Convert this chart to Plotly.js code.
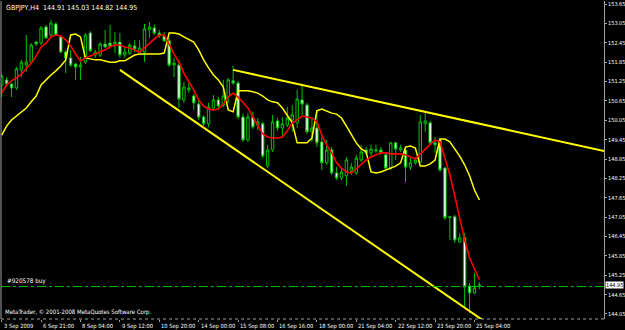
<!DOCTYPE html>
<html><head><meta charset="utf-8">
<script src="https://cdn.plot.ly/plotly-3.0.1.min.js"></script>
<style>html,body{margin:0;padding:0;background:#000;}#chart{width:625px;height:330px;}</style>
</head><body><div id="chart"></div>
<script>
// GBPJPY H4 bars, index 0 = 3 Sep 2009 16:00
const openP = [151.14,151.30,151.17,151.05,151.61,151.76,151.85,152.47,152.44,152.94,
152.69,153.03,152.63,152.16,151.98,151.79,151.70,151.85,152.75,152.07,
152.07,152.41,152.44,152.41,152.47,152.07,152.13,152.35,152.16,152.16,
152.85,152.91,152.75,152.66,152.51,151.76,151.76,150.68,150.99,150.80,
150.55,150.15,149.94,150.43,150.68,150.52,150.77,151.27,151.20,150.15,
149.44,150.15,149.90,149.94,148.64,149.13,150.03,149.81,149.90,150.06,
149.97,150.68,150.52,149.69,149.81,149.38,148.73,149.13,148.42,148.26,
148.33,148.48,148.42,148.82,149.13,149.04,149.10,149.13,148.98,148.57,
149.35,149.13,149.13,148.60,148.73,148.76,149.94,149.97,149.35,149.44,
148.57,147.03,147.06,146.28,146.41,144.92,144.70,144.91];
const highP = [151.48,151.39,151.20,151.70,151.92,152.69,152.44,152.51,152.97,153.00,
153.16,153.09,152.69,152.23,152.23,151.82,152.01,152.75,152.81,152.23,
152.47,152.85,153.00,152.78,152.75,152.32,152.44,152.54,152.54,153.03,
153.09,153.00,152.85,152.78,152.60,151.98,151.92,151.24,151.20,150.86,
150.68,150.21,150.59,150.83,150.77,151.30,151.36,151.73,151.27,150.25,
150.28,150.31,150.12,150.00,149.29,150.21,150.12,150.15,150.46,150.52,
150.99,151.14,150.59,150.15,150.37,149.53,149.44,149.22,148.60,148.57,
148.91,148.73,148.98,149.29,149.22,149.29,149.29,149.22,149.04,149.38,
149.38,149.29,149.19,148.88,148.91,150.21,150.28,150.03,149.53,149.50,
148.60,147.09,147.12,146.56,146.56,145.01,145.32,145.03];
const lowP = [150.77,151.08,150.77,150.99,151.39,151.55,151.82,152.35,152.38,152.57,
152.63,152.66,152.13,151.51,151.70,151.30,151.30,151.79,152.16,151.98,
152.01,152.29,152.32,152.13,151.98,151.98,152.07,152.16,152.13,151.85,
152.60,152.69,152.60,152.47,151.70,151.39,150.43,150.59,150.90,150.37,
150.06,149.87,149.84,150.37,150.37,150.46,150.59,151.14,150.09,149.38,
149.38,149.78,149.75,148.88,148.57,149.07,149.72,149.53,149.84,149.69,
149.81,150.21,149.63,149.38,149.22,148.51,148.67,148.36,148.20,148.20,
148.02,148.36,148.36,148.76,148.98,148.91,149.04,148.98,148.51,148.51,
148.82,149.07,148.14,148.51,148.67,148.73,149.69,149.32,149.04,148.45,
146.96,146.34,146.25,146.25,144.27,144.08,144.67,144.82];
const closeP = [151.42,151.17,151.05,151.64,151.85,151.85,152.38,152.41,152.91,152.60,
153.06,152.69,152.16,151.98,151.76,151.70,151.76,152.69,152.20,152.16,
152.41,152.32,152.35,152.47,152.07,152.16,152.38,152.26,152.29,152.88,
152.94,152.75,152.66,152.51,151.76,151.82,150.71,151.08,151.05,150.59,
150.15,149.94,150.46,150.68,150.49,150.80,151.30,151.20,150.15,149.44,
150.15,149.84,150.00,148.94,149.13,150.00,149.81,149.94,150.12,150.21,
150.71,150.55,149.69,149.81,149.35,148.73,149.13,148.42,148.26,148.45,
148.82,148.60,148.88,149.07,149.04,149.16,149.13,149.04,148.57,149.35,
149.16,149.19,148.60,148.73,148.82,150.00,150.03,149.35,149.29,148.51,
147.03,147.06,146.34,146.41,144.89,144.70,144.86,144.95];
// red moving average
const maRed = [150.89,151.14,151.27,151.36,151.48,151.64,151.82,152.04,152.32,152.44,
152.63,152.69,152.66,152.54,152.35,152.10,151.89,151.98,152.04,152.10,
152.16,152.23,152.32,152.38,152.38,152.32,152.29,152.23,152.16,152.29,
152.44,152.57,152.69,152.69,152.41,152.10,151.85,151.51,151.24,150.99,
150.68,150.49,150.40,150.37,150.40,150.55,150.77,150.89,150.77,150.59,
150.43,150.15,149.87,149.63,149.53,149.50,149.50,149.53,149.72,149.97,
150.06,150.18,150.15,150.12,150.00,149.59,149.28,149.04,148.73,148.57,
148.45,148.42,148.54,148.67,148.82,148.91,148.98,149.04,149.04,149.01,
149.01,149.01,148.98,148.91,148.85,149.01,149.16,149.32,149.44,149.38,
148.88,148.36,147.71,147.02,146.34,145.79,145.42,145.11];
// yellow indicator line
const yellowLine = [149.59,149.87,150.06,150.18,150.31,150.43,150.62,150.80,151.14,151.30,
151.45,151.58,151.73,151.92,152.69,152.72,152.63,151.98,151.95,151.92,
151.92,151.89,151.85,151.85,151.89,151.89,151.98,152.07,152.10,152.10,
152.10,152.10,152.10,152.13,152.75,152.75,152.72,152.63,152.54,152.47,
152.23,151.92,151.67,151.45,151.30,151.08,150.37,150.31,150.96,150.96,
150.96,150.93,150.89,150.80,150.68,150.62,150.59,150.43,150.21,149.97,
149.35,149.35,149.35,149.50,150.34,150.40,150.34,150.27,150.24,150.12,
149.87,149.59,149.35,149.16,149.07,148.45,148.42,148.45,148.51,148.57,
148.63,148.73,149.22,149.25,149.19,148.63,148.63,148.70,148.82,149.47,
149.47,149.38,149.16,148.94,148.67,148.33,147.89,147.58];
// trend lines (bar index, price)
const upperTrendX = [47, 122.3];
const upperTrendY = [151.61, 149.10];
const lowerTrendX = [24, 99];
const lowerTrendY = [151.61, 143.72];
// order line
const orderPrice = 144.90;
const orderLabel = "#920578 buy";
const lastPrice = 144.95;
const header = "GBPJPY,H4  144.91 145.03 144.82 144.95";
const copyright = "MetaTrader, \u00a9 2001-2008 MetaQuotes Software Corp.";
// axes
const tickBars = [0,8,16,24,32,40,48,56,64,72,80,88,96];
const tickLabels = ["3 Sep 2009","6 Sep 21:00","8 Sep 04:00","9 Sep 12:00","10 Sep 20:00","14 Sep 00:00","15 Sep 08:00","16 Sep 16:00","18 Sep 00:00","21 Sep 04:00","22 Sep 12:00","23 Sep 20:00","25 Sep 04:00"];
const priceTicks = [153.65,153.05,152.45,151.85,151.25,150.65,150.05,149.45,148.85,148.25,147.65,147.05,146.45,145.85,145.25,144.65,144.05];
const priceTickText = ["153.65","153.05","152.45","151.85","151.25","150.65","150.05","149.45","148.85","148.25","147.65","147.05","146.45","145.85","145.25","144.65","144.05"];

const idx = openP.map((_, i) => i);
const FONT = "Liberation Sans Narrow, DejaVu Sans Condensed, Liberation Sans, Arial, sans-serif";
const GREEN = "#00c000";

const traces = [
  {type:"scatter", mode:"lines", x:lowerTrendX, y:lowerTrendY, line:{color:"#ffff00", width:2}, hoverinfo:"skip"},
  {type:"scatter", mode:"lines", x:upperTrendX, y:upperTrendY, line:{color:"#ffff00", width:2}, hoverinfo:"skip"},
  {type:"candlestick", x:idx, open:openP, high:highP, low:lowP, close:closeP,
   increasing:{line:{color:GREEN, width:1}, fillcolor:"#000000"},
   decreasing:{line:{color:GREEN, width:1}, fillcolor:"#ffffff"},
   whiskerwidth:0, hoverinfo:"skip"},
  {type:"scatter", mode:"lines", x:idx, y:yellowLine, line:{color:"#ffff00", width:1.5}, hoverinfo:"skip"},
  {type:"scatter", mode:"lines", x:idx, y:maRed, line:{color:"#ff0000", width:1.6}, hoverinfo:"skip"}
];

const xLabelAnns = tickBars.map((b, k) => ({
  xref:"x", yref:"paper", x:b, y:0, xanchor:"left", yanchor:"top", xshift:0, yshift:-2,
  text:tickLabels[k], showarrow:false, font:{family:FONT, size:5.7, color:"#ffffff"}
}));

const layout = {
  width:625, height:330,
  paper_bgcolor:"#000", plot_bgcolor:"#000",
  margin:{l:1, r:21, t:1, b:11, pad:0},
  showlegend:false,
  font:{family:FONT, size:5.5, color:"#ffffff"},
  xaxis:{range:[-0.14, 122.3], rangeslider:{visible:false}, showgrid:false, zeroline:false,
    showline:false, tickmode:"array", tickvals:tickBars, showticklabels:false,
    ticks:"outside", ticklen:2, tickcolor:"#a0a0a0", tickwidth:1},
  yaxis:{range:[143.895, 153.743], side:"right", showgrid:false, zeroline:false,
    showline:true, linecolor:"#a0a0a0", linewidth:1, mirror:false,
    tickmode:"array", tickvals:priceTicks, ticktext:priceTickText,
    ticks:"outside", ticklen:2, tickcolor:"#a0a0a0", tickwidth:1,
    tickfont:{family:FONT, size:5.5, color:"#ffffff"}},
  shapes:[
    {type:"line", xref:"paper", yref:"y", x0:0, x1:1, y0:orderPrice, y1:orderPrice,
     line:{color:GREEN, width:1, dash:"dashdot"}},
    {type:"line", xref:"paper", yref:"paper", x0:0, x1:1, y0:0, y1:0,
     line:{color:"#a0a0a0", width:1, dash:"dot"}},
    {type:"line", xref:"paper", yref:"paper", x0:0, x1:0, y0:0, y1:1,
     line:{color:"#a0a0a0", width:1}}
  ],
  annotations:[
    {xref:"paper", yref:"paper", x:0, y:1, xanchor:"left", yanchor:"top", xshift:3, yshift:-1,
     text:header, showarrow:false, font:{family:FONT, size:7, color:"#ffffff"}},
    {xref:"paper", yref:"y", x:0, y:orderPrice, xanchor:"left", yanchor:"bottom", xshift:4, yshift:0,
     text:orderLabel, showarrow:false, font:{family:FONT, size:6.3, color:"#ffffff"}},
    {xref:"paper", yref:"paper", x:0, y:0, xanchor:"left", yanchor:"bottom", xshift:2, yshift:1,
     text:copyright, showarrow:false, font:{family:FONT, size:6.0, color:"#ffffff"}},
    {xref:"paper", yref:"y", x:1, y:lastPrice, xanchor:"left", yanchor:"middle", xshift:1,
     text:lastPrice.toFixed(2), showarrow:false, bgcolor:"#ffffff", borderpad:0,
     font:{family:FONT, size:5.5, color:"#000000"}}
  ].concat(xLabelAnns)
};

Plotly.newPlot("chart", traces, layout, {staticPlot:true, displayModeBar:false});
</script>
</body></html>
